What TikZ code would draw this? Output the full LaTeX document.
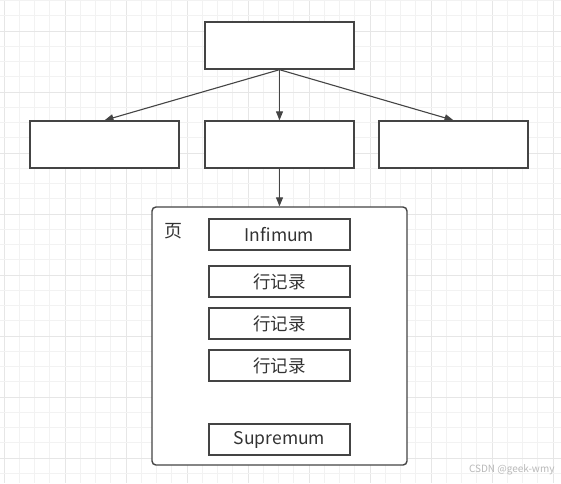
\documentclass[tikz,border=0pt]{standalone}
\usepackage{fontspec}
\setmainfont{Noto Sans CJK SC}
\usetikzlibrary{arrows.meta}
\definecolor{edge}{HTML}{444444}
\definecolor{txt}{HTML}{333333}
\definecolor{gridminor}{HTML}{F2F2F2}
\definecolor{gridmajor}{HTML}{E6E6E6}
\tikzset{
  box/.style={draw=edge, line width=1.4pt, fill=white, minimum width=149pt, minimum height=47pt, inner sep=0pt},
  rec/.style={draw=edge, line width=1.4pt, fill=white, minimum width=141pt, minimum height=31pt, inner sep=0pt, text=txt, font=\fontsize{17.5}{19}\selectfont},
  conn/.style={draw=edge, line width=1.1pt, -{Triangle[length=9pt,width=7pt]}}
}
\begin{document}
\begin{tikzpicture}[x=1pt,y=-1pt]
\useasboundingbox (0,0) rectangle (561,483);
\fill[white] (0,0) rectangle (561,483);
% grid
\foreach \i in {0,...,36} {
  \pgfmathsetmacro\xx{4+15.25*\i}
  \pgfmathtruncatemacro\m{mod(\i,4)}
  \ifnum\m=0
    \draw[gridmajor, line width=1pt] (\xx,0) -- (\xx,483);
  \else
    \draw[gridminor, line width=1pt] (\xx,0) -- (\xx,483);
  \fi
}
\foreach \i in {0,...,31} {
  \pgfmathsetmacro\yy{0.5+15.25*\i}
  \pgfmathtruncatemacro\m{mod(\i+2,4)}
  \ifnum\m=0
    \draw[gridmajor, line width=1pt] (0,\yy) -- (561,\yy);
  \else
    \draw[gridminor, line width=1pt] (0,\yy) -- (561,\yy);
  \fi
}
% boxes
\node[box] (top) at (279.5,45.5) {};
\node[box] (left) at (104.5,144.5) {};
\node[box] (mid) at (279.5,144.5) {};
\node[box] (right) at (453.5,144.5) {};
% page
\node[draw=edge, line width=1.4pt, fill=white, rounded corners=4pt, minimum width=255pt, minimum height=258pt, inner sep=0pt] (page) at (279.5,336) {};
\node[text=txt, font=\fontsize{18}{20}\selectfont, anchor=center] (pagelabel) at (173,231) {页};
\node[rec] (inf) at (279.5,234.5) {Infimum};
\node[rec] (r1) at (279.5,281.5) {行记录};
\node[rec] (r2) at (279.5,323.5) {行记录};
\node[rec] (r3) at (279.5,365.5) {行记录};
\node[rec] (sup) at (279.5,439.5) {Supremum};
% connectors
\draw[conn] (top.south) -- (left.north);
\draw[conn] (top.south) -- (mid.north);
\draw[conn] (top.south) -- (right.north);
\draw[conn] (mid.south) -- (page.north);
% watermark
\node[text=gray!55, font=\fontsize{10}{11}\selectfont, anchor=east] (wm) at (558,470) {CSDN @geek-wmy};
\end{tikzpicture}
\end{document}
